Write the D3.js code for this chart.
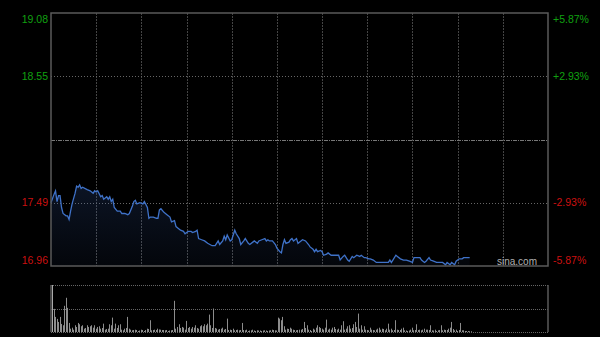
<!DOCTYPE html>
<html><head><meta charset="utf-8">
<script src="https://cdn.jsdelivr.net/npm/d3@7"></script>
<style>html,body{margin:0;padding:0;background:#000;}svg{display:block;}</style>
</head><body>
<svg id="c" width="600" height="337"></svg>
<script>
// minute offsets from session open (HK session: 330 minutes)
const times = [0,2,3,4,5,6,7,8,10,11,12,13,14,16,17,18,19,20,21,24,26,28,29,30,31,33,34,35,37,38,39,40,41,42,44,46,47,49,51,52,54,55,56,57,59,61,62,64,65,66,68,70,71,72,73,75,77,79,80,82,83,85,86,88,89,91,93,94,96,97,98,100,102,104,107,109,111,112,114,115,116,117,119,120,122,123,125,126,128,129,131,132,134,135,137,138,140,142,143,144,145,147,149,150,152,153,154,155,156,158,159,160,161,163,164,166,167,169,171,172,174,175,176,177,179,180,181,183,184,186,187,190,191,192,194,195,196,197,198,200,201,203,205,206,208,209,211,212,214,216,218,222,224,225,226,227,229,230,232,234,236,238,240,241,243,245,246,248,249,251,252,254,256,258,260,262,263,265,266,268,269,271,273,274,276,278];
const prices = [17.49,17.56,17.59,17.50,17.55,17.55,17.45,17.40,17.38,17.38,17.35,17.42,17.48,17.57,17.63,17.62,17.64,17.61,17.62,17.60,17.59,17.57,17.59,17.58,17.59,17.54,17.55,17.52,17.54,17.52,17.54,17.50,17.52,17.45,17.42,17.42,17.40,17.40,17.39,17.40,17.46,17.50,17.51,17.48,17.49,17.48,17.50,17.45,17.36,17.37,17.37,17.36,17.36,17.43,17.44,17.41,17.39,17.37,17.33,17.34,17.29,17.27,17.26,17.25,17.23,17.25,17.25,17.24,17.25,17.26,17.19,17.18,17.17,17.15,17.13,17.13,17.17,17.14,17.17,17.21,17.18,17.22,17.17,17.18,17.26,17.23,17.19,17.14,17.17,17.19,17.15,17.14,17.16,17.17,17.15,17.17,17.18,17.19,17.17,17.18,17.17,17.17,17.14,17.11,17.08,17.07,17.14,17.18,17.15,17.16,17.18,17.19,17.17,17.19,17.15,17.17,17.18,17.17,17.14,17.12,17.10,17.08,17.10,17.08,17.09,17.08,17.05,17.06,17.07,17.05,17.05,17.05,17.05,17.01,17.04,17.05,17.03,17.01,17.00,17.04,17.03,17.05,17.04,17.05,17.03,17.03,17.02,17.02,17.01,16.99,16.99,16.99,16.99,17.01,16.99,17.01,17.05,17.04,17.02,17.01,17.01,17.00,16.99,17.03,17.03,17.03,17.01,16.99,17.00,17.03,17.01,17.00,16.99,16.99,16.99,16.97,16.99,16.97,16.99,16.97,17.00,17.02,17.02,17.03,17.03,17.03];
// per-minute volume, minute 0..278
const volumes = [467,230,150,130,100,150,80,67,260,340,240,90,33,43,23,67,50,90,77,57,67,33,40,67,50,57,67,43,67,33,50,57,33,40,83,23,30,33,77,67,143,33,83,40,67,77,23,17,33,40,150,33,23,17,20,23,20,10,15,23,20,10,20,33,30,117,17,20,23,20,33,25,23,20,20,17,20,10,15,17,20,310,33,50,77,40,50,43,23,110,40,50,33,50,43,67,40,33,57,67,57,77,67,83,173,67,40,233,40,33,23,30,33,43,23,30,133,20,23,20,33,17,20,23,17,20,90,20,17,23,10,15,17,23,15,10,17,15,15,10,15,17,15,10,15,17,23,20,17,15,143,133,117,150,57,23,33,30,43,33,23,20,17,20,23,23,30,100,40,67,23,20,10,33,23,43,67,50,40,33,23,43,123,23,33,23,43,50,30,23,33,23,67,107,23,33,57,67,33,40,77,100,50,183,33,67,23,57,23,20,17,43,23,20,17,23,33,43,23,33,30,17,33,83,23,33,17,20,117,23,20,20,33,43,17,15,10,15,23,43,17,20,77,20,23,17,23,33,23,23,20,67,17,15,23,10,17,20,67,17,23,20,20,33,43,100,30,17,23,10,20,90,17,17,10,10,10,7,7];
const prevClose = 18.02;
const priceTicks = [19.08, 18.55, 17.49, 16.96];
const pctTicks = ["+5.87%", "+2.93%", "-2.93%", "-5.87%"];
const gridMinutes = [30,60,90,120,150,180,210,240,270,300];

const svg = d3.select("#c");
const L = 51, R = 548, T = 13, B = 266;
const VT = 285, VB = 332;
const x = d3.scaleLinear().domain([0, 330]).range([L, R]);
const y = d3.scaleLinear().domain([16.96, 19.08]).range([B, T]);
const yv = d3.scaleLinear().domain([0, d3.max(volumes)]).range([VB, VT]);

const defs = svg.append("defs");
const g = defs.append("linearGradient").attr("id","ag").attr("x1",0).attr("y1",0).attr("x2",0).attr("y2",1);
g.append("stop").attr("offset","0%").attr("stop-color","rgb(60,100,180)").attr("stop-opacity",0.2);
g.append("stop").attr("offset","100%").attr("stop-color","rgb(60,100,180)").attr("stop-opacity",0.06);

svg.append("g").selectAll("line").data(gridMinutes).join("line")
  .attr("x1", d => Math.round(x(d)) + 0.5).attr("x2", d => Math.round(x(d)) + 0.5)
  .attr("y1", T).attr("y2", B)
  .attr("stroke", "#444").attr("stroke-width", 1).attr("stroke-dasharray", "2,1");

svg.append("g").selectAll("line").data([18.55, 17.49]).join("line")
  .attr("x1", L).attr("x2", R)
  .attr("y1", d => Math.round(y(d)) + 0.5).attr("y2", d => Math.round(y(d)) + 0.5)
  .attr("stroke", "#666").attr("stroke-width", 1).attr("stroke-dasharray", "1,2");
svg.append("line").attr("x1", L).attr("x2", R)
  .attr("y1", Math.round(y(prevClose)) + 0.5).attr("y2", Math.round(y(prevClose)) + 0.5)
  .attr("stroke", "#777").attr("stroke-width", 1).attr("stroke-dasharray", "4,1,1,1");

const pts = times.map((t, i) => [t, prices[i]]);
svg.append("path").datum(pts)
  .attr("d", d3.area().x(d => x(d[0])).y0(B).y1(d => y(d[1])))
  .attr("fill", "url(#ag)");
svg.append("path").datum(pts)
  .attr("d", d3.line().x(d => x(d[0])).y(d => y(d[1])))
  .attr("fill", "none").attr("stroke", "#3f72c8").attr("stroke-width", 1.3);

svg.append("rect").attr("x", L).attr("y", T).attr("width", R - L).attr("height", B - T)
  .attr("fill", "none").attr("stroke", "#5a5a5a").attr("stroke-width", 1.5);

const font = "Liberation Sans, Arial, sans-serif";
svg.append("g").selectAll("text").data(priceTicks).join("text")
  .attr("x", 48).attr("y", (d, i) => i === 0 ? y(d) + 9.5 : i === 3 ? y(d) - 2.5 : y(d) + 3.6)
  .attr("text-anchor", "end").attr("font-family", font).attr("font-size", 10.5)
  .attr("fill", d => d > prevClose ? "#10a010" : "#cc1010").text(d => d.toFixed(2));
svg.append("g").selectAll("text").data(pctTicks).join("text")
  .attr("x", 553).attr("y", (d, i) => i === 0 ? y(priceTicks[i]) + 9.5 : i === 3 ? y(priceTicks[i]) - 2.5 : y(priceTicks[i]) + 3.6)
  .attr("text-anchor", "start").attr("font-family", font).attr("font-size", 10.5)
  .attr("fill", d => d[0] === "+" ? "#10a010" : "#cc1010").text(d => d);

svg.append("text").attr("x", 537).attr("y", 265).attr("text-anchor", "end")
  .attr("font-family", font).attr("font-size", 10)
  .attr("fill", "#b0b0b0").text("sina.com");

// volume panel
svg.append("g").selectAll("line").data([VT, (VT + VB) / 2, VB]).join("line")
  .attr("x1", L).attr("x2", R).attr("y1", d => Math.round(d) + 0.5).attr("y2", d => Math.round(d) + 0.5)
  .attr("stroke", "#666").attr("stroke-width", 1).attr("stroke-dasharray", "1,1");
svg.append("g").selectAll("line").data([L, R]).join("line")
  .attr("x1", d => d).attr("x2", d => d).attr("y1", VT).attr("y2", VB)
  .attr("stroke", "#5a5a5a").attr("stroke-width", 1.5);
svg.append("g").selectAll("line").data(volumes).join("line")
  .attr("x1", (d, i) => Math.round(x(i)) + 1.5).attr("x2", (d, i) => Math.round(x(i)) + 1.5)
  .attr("y1", VB).attr("y2", d => yv(d))
  .attr("stroke", (d, i) => i === 0 ? "#aaaaaa" : "#8c8c8c").attr("stroke-width", 1);
</script>
</body></html>
